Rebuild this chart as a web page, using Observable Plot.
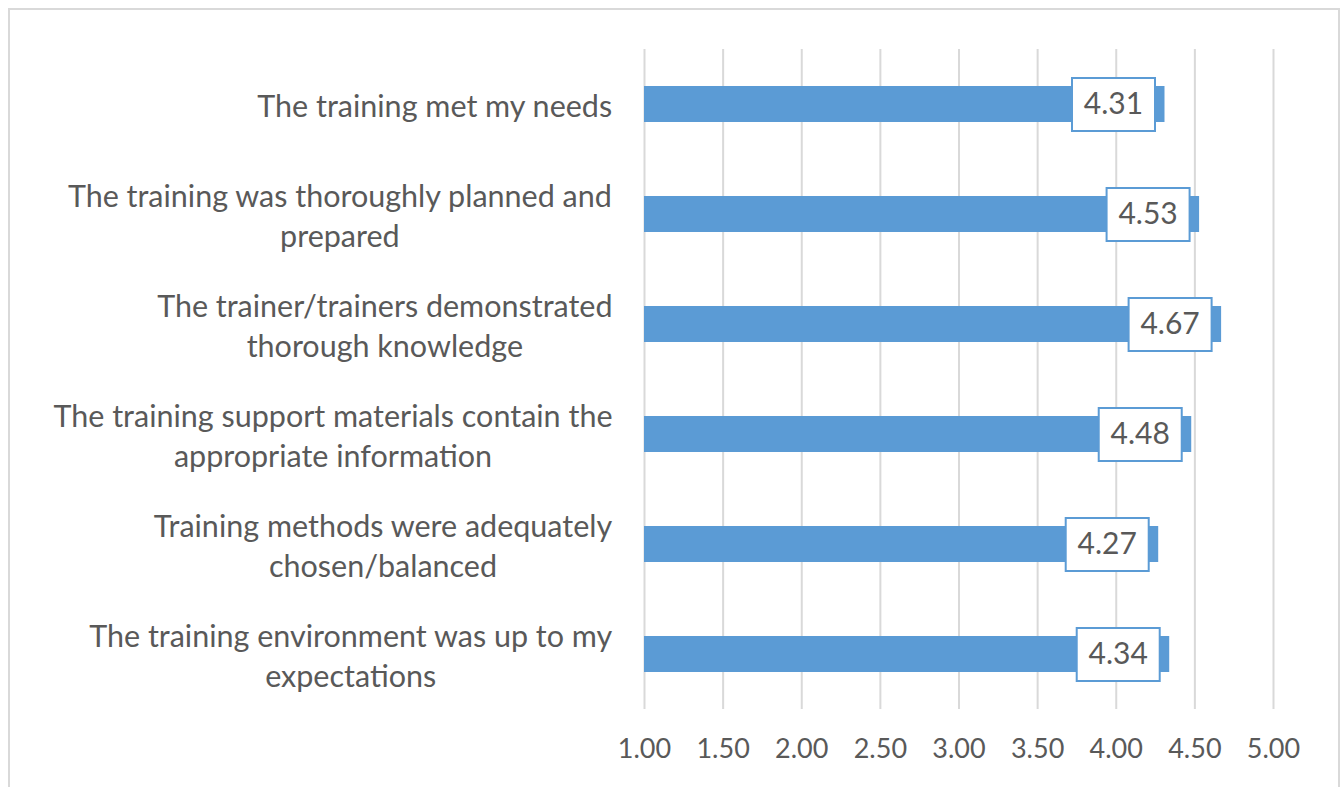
<!DOCTYPE html>
<html>
<head>
<meta charset="utf-8">
<script src="https://cdn.jsdelivr.net/npm/d3@7"></script>
<script src="https://cdn.jsdelivr.net/npm/@observablehq/plot@0.6"></script>
<style>
  html, body { margin: 0; padding: 0; background: #fff; overflow: hidden; }
  #chart { position: absolute; left: 0; top: 0; }
  #border { position: absolute; left: 8px; top: 8px; width: 1332px; height: 800px;
            border: 2px solid #d9d9d9; box-sizing: border-box; pointer-events: none; }
</style>
</head>
<body>
<div id="chart"></div>
<div id="border"></div>
<script>
const categories = [
  "The training met my needs",
  "The training was thoroughly planned and\nprepared",
  "The trainer/trainers demonstrated\nthorough knowledge",
  "The training support materials contain the\nappropriate information",
  "Training methods were adequately\nchosen/balanced",
  "The training environment was up to my\nexpectations"
];
const values = [4.31, 4.53, 4.67, 4.48, 4.27, 4.34];
const xTicks = [1.0, 1.5, 2.0, 2.5, 3.0, 3.5, 4.0, 4.5, 5.0];

const data = categories.map((c, i) => ({category: c, value: values[i]}));

const FONT = "Lato, 'Open Sans', sans-serif";
const labelSize = 30.5;
const ctx = document.createElement("canvas").getContext("2d");
ctx.font = `${labelSize}px Lato`;
const blockWidth = s => Math.max(...s.split("\n").map(l => ctx.measureText(l).width));

const boxSymbol = {
  draw(context) {
    const w = 83, h = 53;
    context.rect(-w / 2, -h / 2, w, h);
  }
};

const labelMarks = data.map(d => Plot.text([d], {
  y: "category",
  text: "category",
  frameAnchor: "left",
  textAnchor: "middle",
  dx: -(32 + blockWidth(d.category) / 2),
  fontSize: labelSize,
  lineHeight: 1.28,
  fill: "#595959"
}));

const chart = Plot.plot({
  width: 1344,
  height: 787,
  marginLeft: 644,
  marginRight: 71,
  marginTop: 49,
  marginBottom: 78,
  style: {fontFamily: FONT, color: "#595959", background: "transparent"},
  x: {domain: [1, 5]},
  y: {domain: categories, paddingInner: 0.673, paddingOuter: 0.3365, axis: null},
  marks: [
    Plot.gridX(xTicks, {stroke: "#d9d9d9", strokeOpacity: 1, strokeWidth: 2}),
    Plot.axisX({ticks: xTicks, tickFormat: d => d.toFixed(2), tickSize: 0, tickPadding: 29,
                fontSize: 27, fill: "#595959", label: null}),
    Plot.barX(data, {y: "category", x1: 1, x2: "value", fill: "#5b9bd5"}),
    Plot.dot(data, {y: "category", x: "value", dx: -51.5, symbol: boxSymbol,
                    fill: "#fff", stroke: "#5b9bd5", strokeWidth: 2}),
    Plot.text(data, {y: "category", x: "value", dx: -51.5, text: d => d.value.toFixed(2),
                     fontSize: 30, fill: "#595959"}),
    ...labelMarks
  ]
});
document.getElementById("chart").appendChild(chart);
</script>
</body>
</html>
